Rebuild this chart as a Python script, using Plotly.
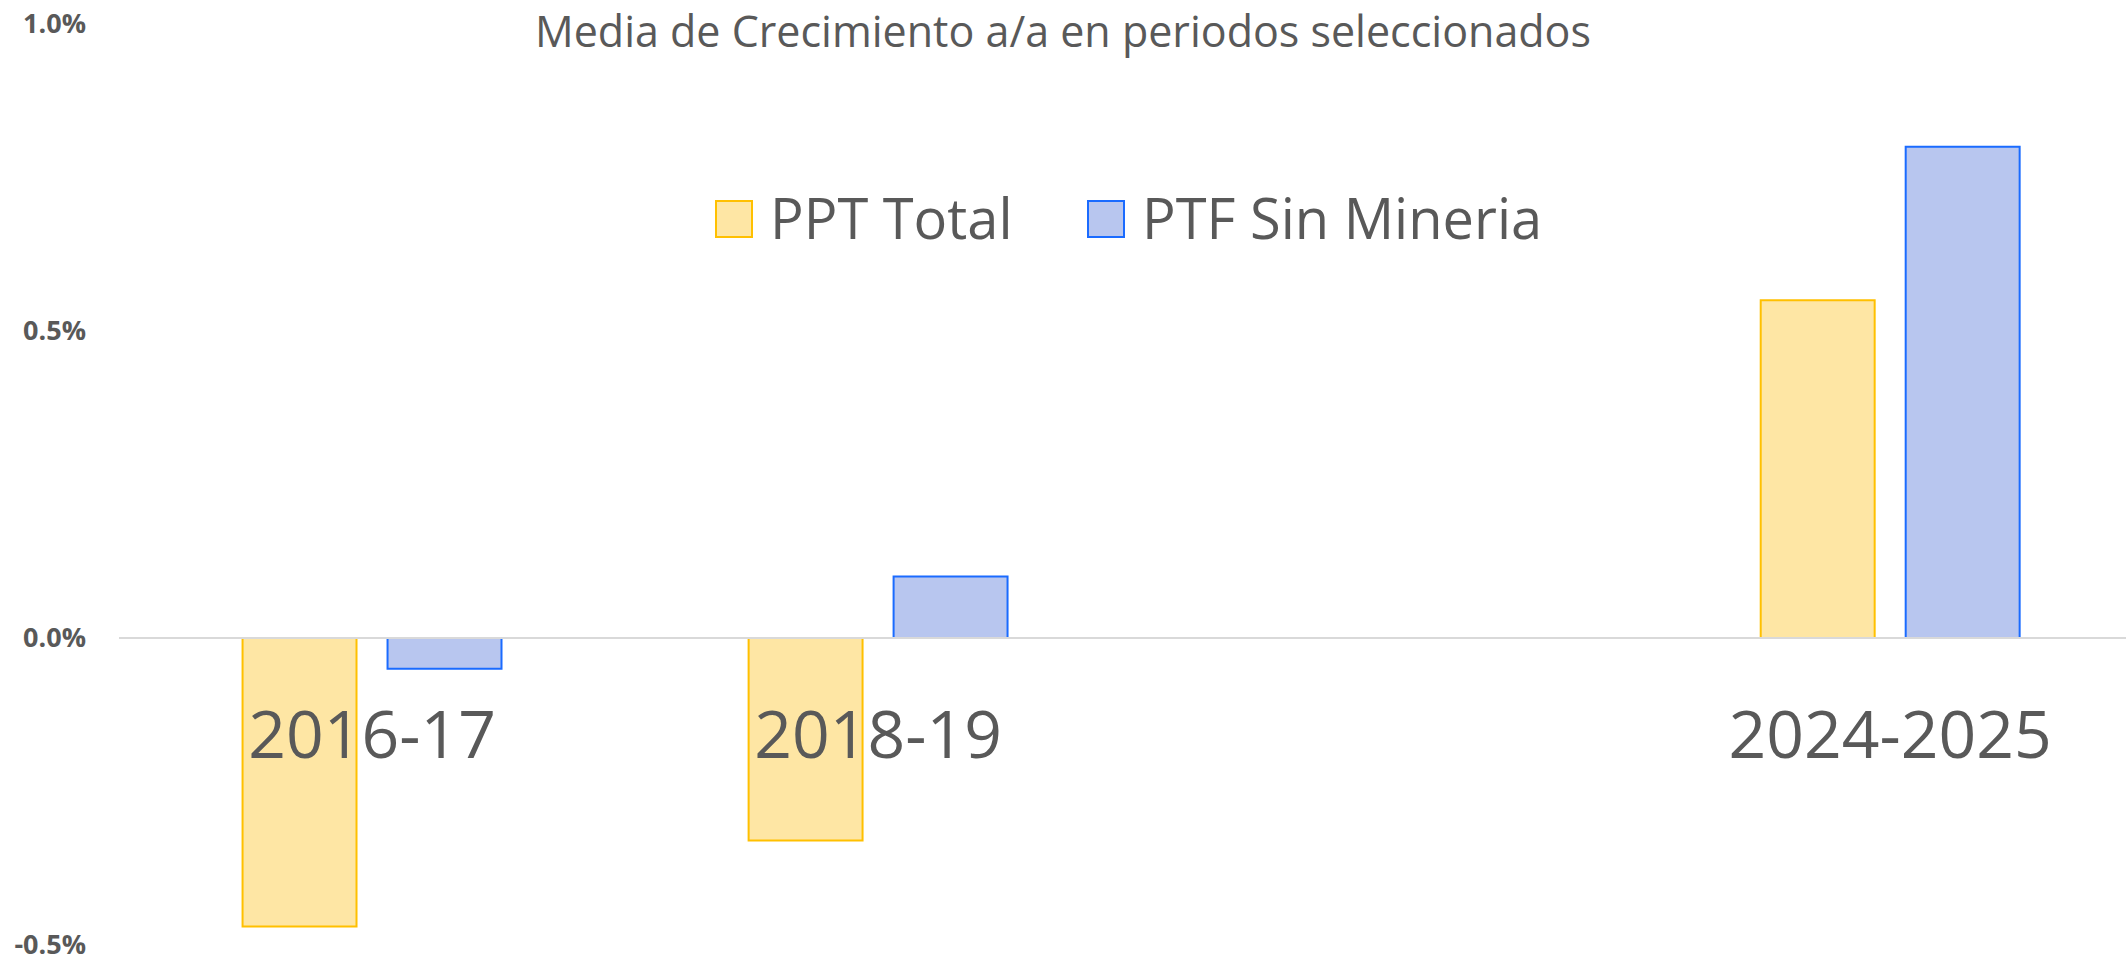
import plotly.graph_objects as go

periods = ["2016-17", "2018-19", " ", "2024-2025"]
ppt_total = [-0.47, -0.33, None, 0.55]
ptf_sin_mineria = [-0.05, 0.10, None, 0.80]
y_ticks = [-0.5, 0.0, 0.5, 1.0]
y_tick_labels = ["-0.5%", "0.0%", "0.5%", "1.0%"]

TEXT = "#595959"
FONT = "Open Sans"

W, H = 2126, 962
ML, MR, MT, MB = 119, 0, 24, 17
Y_MIN, Y_MAX = -0.5, 1.0


def px_x(x):
    return (x - ML) / (W - ML - MR)


def px_y(y):
    return (H - MB - y) / (H - MT - MB)


fig = go.Figure()

fig.add_trace(
    go.Bar(
        x=periods,
        y=ppt_total,
        name="PPT Total",
        marker=dict(color="#FEE6A4", line=dict(color="#FFC000", width=2)),
        showlegend=False,
    )
)
fig.add_trace(
    go.Bar(
        x=periods,
        y=ptf_sin_mineria,
        name="PTF Sin Mineria",
        marker=dict(color="#B8C6EF", line=dict(color="#1A6BFF", width=2)),
        showlegend=False,
    )
)

# legend drawn by hand so the swatches can be as large as in the original
legend_items = [
    ("PPT Total", "#FEE6A4", "#FFC000", 716),
    ("PTF Sin Mineria", "#B8C6EF", "#1A6BFF", 1088),
]
for label, fill, edge, x0 in legend_items:
    fig.add_shape(
        type="rect",
        xref="paper", yref="paper",
        x0=px_x(x0), x1=px_x(x0 + 36),
        y0=px_y(237), y1=px_y(201),
        fillcolor=fill,
        line=dict(color=edge, width=2),
    )
    fig.add_annotation(
        x=px_x(x0 + 52), y=px_y(217),
        xref="paper", yref="paper",
        xanchor="left", yanchor="middle",
        text=label,
        showarrow=False,
        font=dict(family=FONT, size=56, color=TEXT),
    )

fig.update_layout(
    width=W,
    height=H,
    margin=dict(l=ML, r=MR, t=MT, b=MB, autoexpand=False),
    paper_bgcolor="white",
    plot_bgcolor="white",
    bargap=0.427,
    bargroupgap=0.214,
    title=dict(
        text="Media de Crecimiento a/a en periodos seleccionados",
        font=dict(family=FONT, size=43, color=TEXT),
        xref="container", x=0.5, xanchor="center",
        yref="container", y=1 - 32 / H, yanchor="middle",
    ),
    xaxis=dict(
        type="category",
        categoryorder="array",
        categoryarray=periods,
        range=[-0.5, 3.466],
        anchor="free",
        position=(0 - Y_MIN) / (Y_MAX - Y_MIN),
        automargin=False,
        showline=True,
        linecolor="#D9D9D9",
        linewidth=2,
        showgrid=False,
        ticks="",
        ticklabelstandoff=40,
        tickfont=dict(family=FONT, size=66, color=TEXT),
    ),
    yaxis=dict(
        range=[Y_MIN, Y_MAX],
        tickmode="array",
        tickvals=y_ticks,
        ticktext=y_tick_labels,
        automargin=False,
        ticklabeloverflow="allow",
        showgrid=False,
        zeroline=False,
        showline=False,
        ticks="",
        ticklabelstandoff=32,
        tickfont=dict(family=FONT, size=27, color=TEXT, weight="bold"),
    ),
)

fig.write_html(
    "out.html",
    config={"displayModeBar": False},
    post_script="document.body.style.margin = '0';",
)
